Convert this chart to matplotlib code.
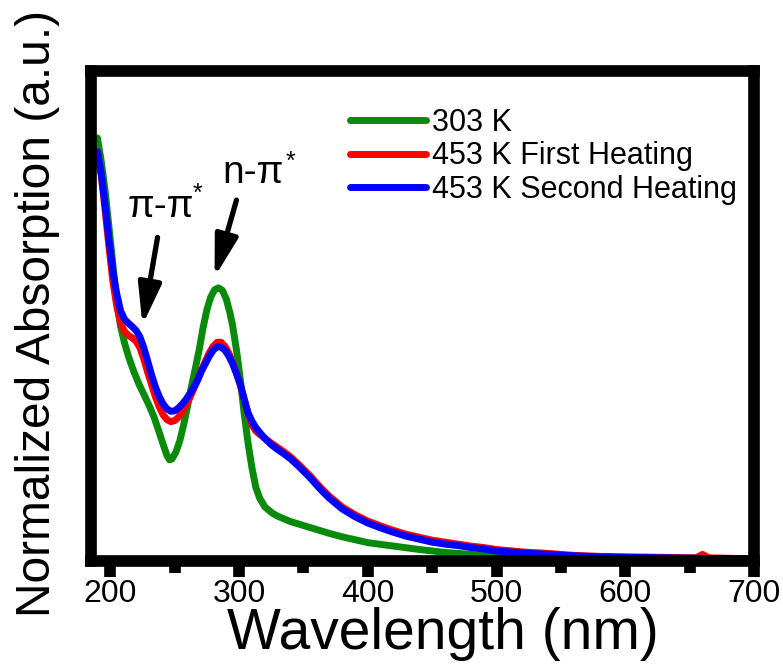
import numpy as np
import matplotlib.pyplot as plt

plt.rcParams['font.family'] = ['Liberation Sans', 'DejaVu Sans']

# 303 K
wl_303 = [190, 193, 196, 199, 202, 205, 208, 211, 214, 218, 222, 226, 230, 234, 238,
          241, 244, 246, 248, 251, 254, 257, 260, 263, 266, 269, 272, 275, 278, 281,
          284, 287, 290, 293, 295, 298, 301, 304, 307, 310, 313, 316, 320, 326, 330,
          340, 350, 360, 370, 380, 390, 400, 420, 440, 460, 480, 500, 530, 560, 600,
          650, 700]
abs_303 = [0.863, 0.815, 0.755, 0.680, 0.605, 0.530, 0.478, 0.445, 0.418, 0.388, 0.362,
           0.340, 0.318, 0.293, 0.262, 0.238, 0.215, 0.206, 0.208, 0.222, 0.245, 0.278,
           0.315, 0.355, 0.392, 0.430, 0.475, 0.512, 0.538, 0.553, 0.557, 0.552, 0.535,
           0.505, 0.480, 0.430, 0.370, 0.300, 0.240, 0.190, 0.150, 0.128, 0.110, 0.097,
           0.091, 0.080, 0.072, 0.064, 0.056, 0.049, 0.043, 0.037, 0.030, 0.023, 0.017,
           0.013, 0.010, 0.008, 0.006, 0.005, 0.004, 0.003]

# 453 K first heating
wl_first = [190, 193, 196, 199, 202, 205, 208, 211, 214, 217, 220, 223, 226, 229, 232,
            235, 238, 241, 244, 247, 250, 253, 256, 259, 262, 265, 268, 271, 274, 277,
            280, 283, 286, 289, 292, 295, 298, 301, 304, 307, 310, 313, 316, 320, 325,
            330, 335, 340, 345, 350, 355, 360, 365, 370, 375, 380, 385, 390, 400, 410,
            420, 430, 440, 450, 460, 470, 480, 490, 500, 520, 540, 560, 580, 600, 630,
            655, 660, 665, 700]
abs_first = [0.835, 0.785, 0.715, 0.640, 0.570, 0.520, 0.485, 0.468, 0.460, 0.455, 0.448,
             0.435, 0.412, 0.385, 0.360, 0.335, 0.314, 0.298, 0.288, 0.284, 0.286, 0.293,
             0.304, 0.318, 0.334, 0.352, 0.370, 0.390, 0.408, 0.425, 0.438, 0.446, 0.446,
             0.438, 0.424, 0.405, 0.383, 0.358, 0.330, 0.300, 0.277, 0.265, 0.258, 0.250,
             0.240, 0.231, 0.222, 0.212, 0.200, 0.187, 0.174, 0.159, 0.145, 0.132, 0.121,
             0.110, 0.102, 0.094, 0.081, 0.071, 0.062, 0.054, 0.048, 0.042, 0.038, 0.034,
             0.030, 0.027, 0.023, 0.018, 0.015, 0.011, 0.009, 0.008, 0.007, 0.006, 0.013,
             0.006, 0.004]

# 453 K second heating
wl_second = [190, 193, 196, 199, 202, 205, 208, 211, 214, 217, 220, 223, 226, 229, 232,
             235, 238, 241, 244, 247, 250, 253, 256, 259, 262, 265, 268, 271, 274, 277,
             280, 283, 286, 289, 292, 295, 298, 301, 304, 307, 310, 313, 316, 320, 325,
             330, 335, 340, 345, 350, 355, 360, 365, 370, 375, 380, 385, 390, 400, 410,
             420, 430, 440, 450, 460, 470, 480, 490, 500, 520, 540, 560, 580, 600, 630,
             660, 700]
abs_second = [0.835, 0.790, 0.725, 0.655, 0.590, 0.545, 0.510, 0.493, 0.485, 0.478, 0.470,
              0.457, 0.435, 0.408, 0.380, 0.355, 0.335, 0.320, 0.310, 0.305, 0.306, 0.312,
              0.320, 0.330, 0.342, 0.355, 0.370, 0.388, 0.403, 0.418, 0.430, 0.437, 0.436,
              0.430, 0.418, 0.402, 0.382, 0.360, 0.330, 0.302, 0.285, 0.272, 0.262, 0.250,
              0.237, 0.227, 0.218, 0.208, 0.196, 0.183, 0.170, 0.155, 0.141, 0.128, 0.117,
              0.106, 0.098, 0.090, 0.077, 0.067, 0.058, 0.050, 0.044, 0.038, 0.034, 0.031,
              0.027, 0.024, 0.020, 0.016, 0.013, 0.010, 0.008, 0.007, 0.006, 0.005, 0.003]

labels = ['303 K', '453 K First Heating', '453 K Second Heating']
colors = ['#0a8a0a', '#ff0000', '#0000ff']

fig = plt.figure(figsize=(7.83, 6.66), dpi=100)
ax = fig.add_axes([0.1162, 0.158, 0.8468, 0.7357])

for wl, a, lab, c in zip([wl_303, wl_first, wl_second],
                         [abs_303, abs_first, abs_second], labels, colors):
    ax.plot(wl, a, color=c, lw=5, label=lab, solid_capstyle='round',
            solid_joinstyle='round')

ax.set_xlim(185, 700)
ax.set_ylim(0, 1)
ax.set_yticks([])
ax.set_xticks([200, 300, 400, 500, 600, 700])
ax.set_xticks([250, 350, 450, 550, 650], minor=True)
ax.tick_params(axis='x', which='major', direction='out', length=11.4, width=8.4,
               labelsize=23, pad=2)
ax.tick_params(axis='x', which='minor', direction='out', length=8.5, width=8.4)
for s in ax.spines.values():
    s.set_linewidth(8.4)
    s.set_capstyle('projecting')

ax.set_xlabel('Wavelength (nm)', fontsize=41, labelpad=-2)
ax.xaxis.label.set_x(0.531)
ax.set_ylabel('Normalized Absorption (a.u.)', fontsize=34.5, labelpad=22)
ax.yaxis.label.set_y(0.505)

# band assignments
arrow = dict(arrowstyle='-|>,head_length=2.5,head_width=0.7', lw=3.8, color='black',
             shrinkA=0, shrinkB=0, mutation_scale=10)
ax.annotate('', xy=(225, 0.481), xytext=(236.7, 0.660), arrowprops=arrow)
ax.annotate('', xy=(281, 0.579), xytext=(298, 0.736), arrowprops=arrow)
ax.text(213.4, 0.702, 'π-π', fontsize=28, va='baseline', ha='left')
ax.text(264, 0.735, '*', fontsize=18, va='baseline', ha='left')
ax.text(287.2, 0.771, 'n-π', fontsize=28, va='baseline', ha='left')
ax.text(336, 0.800, '*', fontsize=18, va='baseline', ha='left')

ax.legend(loc='upper left', bbox_to_anchor=(0.39, 0.925), frameon=False, fontsize=22,
          handlelength=2.5, handletextpad=0.2, labelspacing=0.12, borderpad=0,
          borderaxespad=0)

fig.savefig('out.png', dpi=100)
